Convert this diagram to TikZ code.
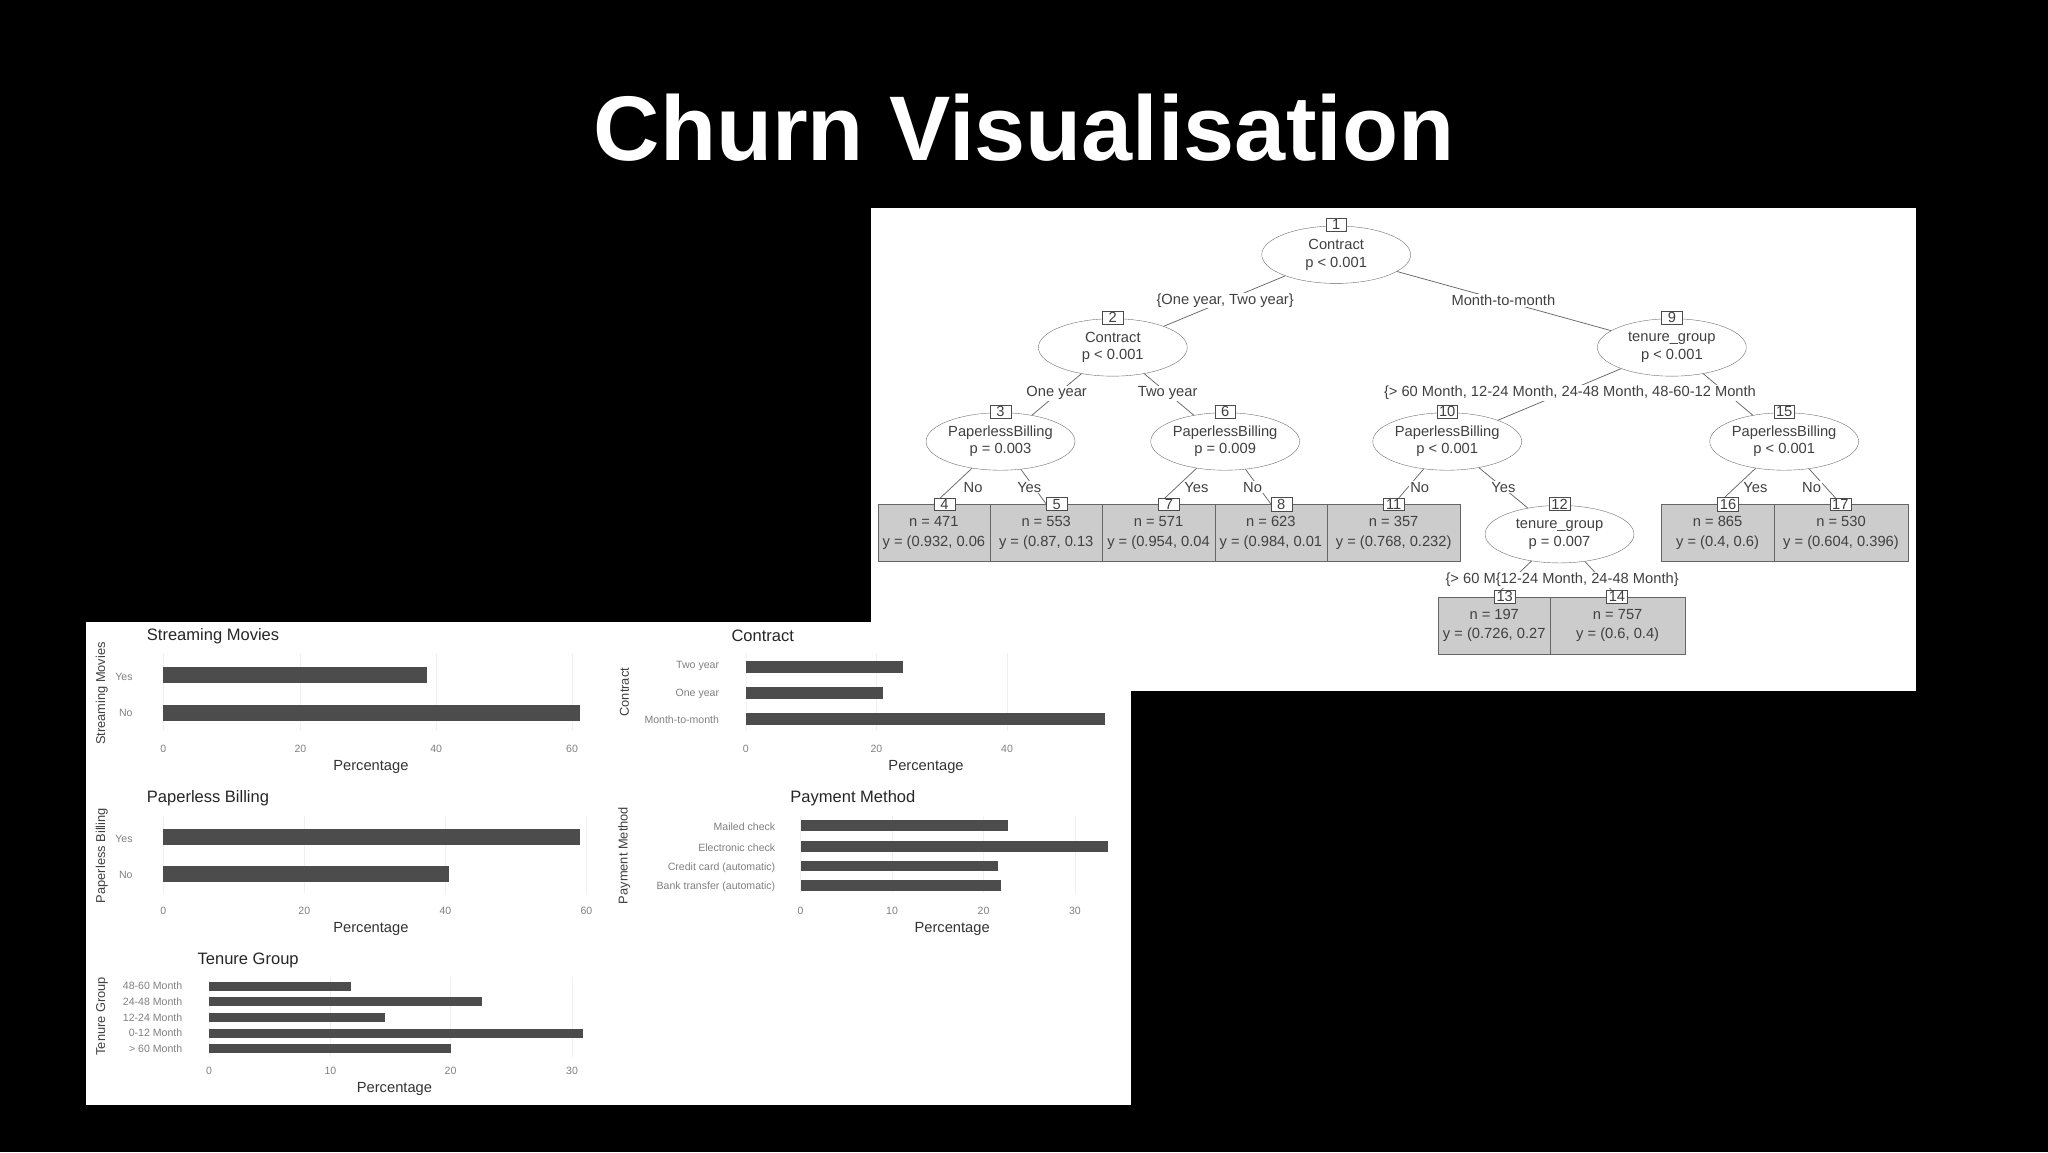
\documentclass[tikz,border=0pt]{standalone}
\usepackage{fontspec}
\setmainfont{Liberation Sans}
\usetikzlibrary{shapes.geometric}
\begin{document}
\begin{tikzpicture}[x=0.05cm,y=-0.05cm,
 tt/.style={font=\fontsize{16}{19}\selectfont, text=black!75},
 ell/.style={ellipse,draw=black!60,fill=white,minimum width=5.7cm,minimum height=2.2cm,inner sep=0pt,align=center,tt,font=\fontsize{16}{19}\selectfont},
 leaf/.style={rectangle,draw=black!60,fill=black!20,minimum width=4.3cm,minimum height=2.2cm,inner sep=0pt,align=center,tt,font=\fontsize{16}{21}\selectfont},
 num/.style={rectangle,draw=black!70,fill=white,inner sep=1.5pt,minimum width=0.8cm,tt},
 lab/.style={fill=white,inner sep=1pt,tt},
 edge/.style={draw=black!60,line width=0.8pt},
 bar/.style={fill=black!70},
 tick/.style={font=\fontsize{11.5}{12}\selectfont,text=black!50},
 ctitle/.style={font=\fontsize{18}{21}\selectfont,text=black!85},
 pct/.style={font=\fontsize{16}{18}\selectfont,text=black!80},
 axl/.style={font=\fontsize{14}{16}\selectfont,text=black!75,rotate=90}]
\fill[black] (0,0) rectangle (1568,882);
\useasboundingbox (0,0) rectangle (1568,882);
\node[text=white,font=\fontsize{100}{110}\bfseries] (title) at (784,98) {Churn Visualisation};
% tree panel
\fill[white] (667,159) rectangle (1467,529);
\node[ell] (e1) at (1023,195) {Contract\\p < 0.001};
\node[ell] (e2) at (852,266) {Contract\\p < 0.001};
\node[ell] (e9) at (1280,266) {tenure\_group\\p < 0.001};
\node[ell] (e3) at (766,338) {PaperlessBilling\\p = 0.003};
\node[ell] (e6) at (938,338) {PaperlessBilling\\p = 0.009};
\node[ell] (e10) at (1108,338) {PaperlessBilling\\p < 0.001};
\node[ell] (e15) at (1366,338) {PaperlessBilling\\p < 0.001};
\node[ell] (e12) at (1194,409) {tenure\_group\\p = 0.007};
\node[leaf] (l4) at (715,408) {n = 471\\y = (0.932, 0.06};
\node[leaf] (l5) at (801,408) {n = 553\\y = (0.87, 0.13};
\node[leaf] (l7) at (887,408) {n = 571\\y = (0.954, 0.04};
\node[leaf] (l8) at (973,408) {n = 623\\y = (0.984, 0.01};
\node[leaf,minimum width=5.1cm] (l11) at (1067,408) {n = 357\\y = (0.768, 0.232)};
\node[leaf] (l16) at (1315,408) {n = 865\\y = (0.4, 0.6)};
\node[leaf,minimum width=5.15cm] (l17) at (1409.5,408) {n = 530\\y = (0.604, 0.396)};
\node[leaf] (l13) at (1144,479) {n = 197\\y = (0.726, 0.27};
\node[leaf,minimum width=5.15cm] (l14) at (1238.5,479) {n = 757\\y = (0.6, 0.4)};
% edges
\draw[edge] (e1) -- (e2); \draw[edge] (e1) -- (e9);
\draw[edge] (e2) -- (e3); \draw[edge] (e2) -- (e6);
\draw[edge] (e9) -- (e10); \draw[edge] (e9) -- (e15);
\draw[edge] (e3) -- (l4.north); \draw[edge] (e3) -- (l5.north);
\draw[edge] (e6) -- (l7.north); \draw[edge] (e6) -- (l8.north);
\draw[edge] (e10) -- (l11.north); \draw[edge] (e10) -- (e12);
\draw[edge] (e15) -- (l16.north); \draw[edge] (e15) -- (l17.north);
\draw[edge] (e12) -- (l13.north); \draw[edge] (e12) -- (l14.north);
% numbers
\node[num] (n1) at (1023,172) {1};
\node[num] (n2) at (852,243) {2};
\node[num] (n9) at (1280,243) {9};
\node[num] (n3) at (766,315) {3};
\node[num] (n6) at (938,315) {6};
\node[num] (n10) at (1108,315) {10};
\node[num] (n15) at (1366,315) {15};
\node[num] (n12) at (1194,386) {12};
\node[num] (n4) at (723,386) {4};
\node[num] (n5) at (809,386) {5};
\node[num] (n7) at (895,386) {7};
\node[num] (n8) at (981,386) {8};
\node[num] (n11) at (1067,386) {11};
\node[num] (n16) at (1323,386) {16};
\node[num] (n17) at (1409,386) {17};
\node[num] (n13) at (1152,457) {13};
\node[num] (n14) at (1238,457) {14};
% edge labels
\node[lab] (t1) at (938,230) {\{One year, Two year\}};
\node[lab] (t2) at (1151,230) {Month-to-month};
\node[lab] (t3) at (809,301) {One year};
\node[lab] (t4) at (894,301) {Two year};
\node[lab] (t5) at (1202,301) {\{> 60 Month, 12-24 Month, 24-48 Month, 48-60-12 Month};
\node[lab] (t6) at (745,373) {No};
\node[lab] (t7) at (788,373) {Yes};
\node[lab] (t8) at (916,373) {Yes};
\node[lab] (t9) at (959,373) {No};
\node[lab] (t10) at (1087,373) {No};
\node[lab] (t11) at (1151,373) {Yes};
\node[lab] (t12) at (1344,373) {Yes};
\node[lab] (t13) at (1387,373) {No};
\node[lab] (t14) at (1196,444) {\{> 60 M\{12-24 Month, 24-48 Month\}};
% chart panel
\fill[white] (66,476) rectangle (866,846);
% Streaming Movies
\node[ctitle,anchor=west] (c1) at (110,487) {Streaming Movies};
\node[axl] at (78,531) {Streaming Movies};
\foreach \x/\l in {125/0,230/20,334/40,438/60}{\draw[black!6] (\x,500)--(\x,560); \node[tick] at (\x,573) {\l};}
\fill[bar] (125,511) rectangle (327,523); \fill[bar] (125,540) rectangle (444,552);
\node[tick,anchor=east] at (104,518) {Yes}; \node[tick,anchor=east] at (104,546) {No};
\node[pct] at (284,587) {Percentage};
% Contract
\node[ctitle] (c2) at (584,487) {Contract};
\node[axl] at (478,530) {Contract};
\foreach \x/\l in {571/0,671/20,771/40}{\draw[black!6] (\x,500)--(\x,560); \node[tick] at (\x,573) {\l};}
\fill[bar] (571,506) rectangle (691,515); \fill[bar] (571,526) rectangle (676,535); \fill[bar] (571,546) rectangle (846,555);
\node[tick,anchor=east] at (553,510) {Two year}; \node[tick,anchor=east] at (553,531) {One year}; \node[tick,anchor=east] at (553,551) {Month-to-month};
\node[pct] at (709,587) {Percentage};
% Paperless Billing
\node[ctitle,anchor=west] (c3) at (110,611) {Paperless Billing};
\node[axl] at (78,655) {Paperless Billing};
\foreach \x/\l in {125/0,233/20,341/40,449/60}{\draw[black!6] (\x,625)--(\x,684); \node[tick] at (\x,697) {\l};}
\fill[bar] (125,635) rectangle (444,647); \fill[bar] (125,663) rectangle (344,675);
\node[tick,anchor=east] at (104,642) {Yes}; \node[tick,anchor=east] at (104,670) {No};
\node[pct] at (284,711) {Percentage};
% Payment Method
\node[ctitle] (c4) at (653,611) {Payment Method};
\node[axl] at (478,655) {Payment Method};
\foreach \x/\l in {613/0,683/10,753/20,823/30}{\draw[black!6] (\x,625)--(\x,684); \node[tick] at (\x,697) {\l};}
\fill[bar] (613,628) rectangle (772,636); \fill[bar] (613,644) rectangle (848,652); \fill[bar] (613,659) rectangle (764,667); \fill[bar] (613,674) rectangle (766,682);
\node[tick,anchor=east] at (596,633) {Mailed check}; \node[tick,anchor=east] at (596,649) {Electronic check}; \node[tick,anchor=east] at (596,664) {Credit card (automatic)}; \node[tick,anchor=east] at (596,679) {Bank transfer (automatic)};
\node[pct] at (729,711) {Percentage};
% Tenure Group
\node[ctitle] (c5) at (190,735) {Tenure Group};
\node[axl] at (78,778) {Tenure Group};
\foreach \x/\l in {160/0,253/10,345/20,438/30}{\draw[black!6] (\x,748)--(\x,809); \node[tick] at (\x,820) {\l};}
\foreach \y/\w/\l in {755/269/48-60 Month,767/369/24-48 Month,779/295/12-24 Month,791/446/0-12 Month,803/345/> 60 Month}{\fill[bar] (160,\y-3.5) rectangle (\w,\y+3.5); \node[tick,anchor=east] at (142,\y) {\l};}
\node[pct] at (302,834) {Percentage};
\end{tikzpicture}
\end{document}
